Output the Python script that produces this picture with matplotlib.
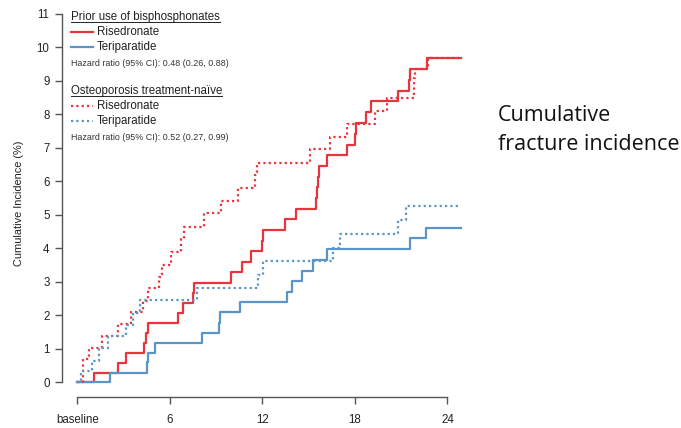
"""Cumulative fracture incidence: risedronate vs teriparatide, by prior treatment."""

import matplotlib
matplotlib.use("Agg")
import matplotlib.pyplot as plt
from matplotlib.lines import Line2D

# Kaplan-Meier style step data (months, cumulative incidence %)
rise_prior_t = [0, 1.06, 2.66, 3.14, 4.34, 4.48, 4.6, 6.55, 6.83, 7.5, 7.56, 9.96,
                10.69, 11.26, 11.95, 12.05, 13.46, 14.17, 15.5, 15.55, 15.6, 15.65,
                16.16, 17.5, 18.0, 18.05, 18.7, 19.03, 20.76, 21.5, 21.6, 22.7, 24.9]
rise_prior_y = [0, 0.28, 0.57, 0.87, 1.17, 1.47, 1.77, 2.07, 2.37, 2.67, 2.97, 3.28,
                3.6, 3.92, 4.23, 4.55, 4.87, 5.18, 5.5, 5.82, 6.14, 6.46,
                6.78, 7.09, 7.41, 7.73, 8.06, 8.39, 8.7, 9.02, 9.34, 9.67, 9.67]

teri_prior_t = [0, 2.12, 4.5, 4.56, 5.04, 8.06, 9.2, 9.25, 10.54, 13.6, 13.93, 14.6,
                15.3, 16.2, 21.56, 22.58, 24.9]
teri_prior_y = [0, 0.29, 0.6, 0.88, 1.16, 1.48, 1.78, 2.09, 2.4, 2.7, 3.02, 3.33,
                3.65, 3.97, 4.3, 4.62, 4.62]

rise_naive_t = [0, 0.39, 0.78, 1.58, 2.66, 3.48, 4.28, 4.6, 5.31, 5.5, 6.05, 6.7, 6.9,
                8.21, 9.31, 10.4, 11.55, 11.62, 15.08, 16.4, 17.46, 19.3, 20.05, 21.8,
                21.85, 21.9, 22.75, 24.9]
rise_naive_y = [0, 0.7, 1.03, 1.38, 1.73, 2.09, 2.44, 2.8, 3.15, 3.5, 3.88, 4.27, 4.65,
                5.04, 5.41, 5.8, 6.18, 6.56, 6.96, 7.33, 7.72, 8.1, 8.48, 8.78,
                9.08, 9.34, 9.67, 9.67]

teri_naive_t = [0, 0.24, 0.93, 1.4, 2.0, 3.16, 3.63, 4.06, 7.74, 11.73, 12.05, 16.55,
                17.0, 20.8, 21.3, 24.9]
teri_naive_y = [0, 0.33, 0.64, 1.03, 1.38, 1.72, 2.06, 2.45, 2.82, 3.2, 3.62, 4.0,
                4.43, 4.85, 5.27, 5.27]

x_ticks = [0, 6, 12, 18, 24]
x_labels = ["baseline", "6", "12", "18", "24"]
y_ticks = list(range(0, 12))

RED = "#e8343d"
BLUE = "#5b95c8"
AXIS = "#555555"
DOTS = (0, (1, 1.4))

W, H = 681, 428
fig = plt.figure(figsize=(W / 100, H / 100), dpi=100)
plt.rcParams["font.family"] = ["Liberation Sans", "DejaVu Sans"]

# axes placed so that the detached R-style spines land where they do in the original
ax = fig.add_axes([62 / W, 31 / H, (466 - 62) / W, (417.5 - 31) / H])
ax.set_xlim(-0.99, 25.2)
ax.set_ylim(-0.44, 11.1)

ax.step(rise_prior_t, rise_prior_y, where="post", color=RED, lw=1.6)
ax.step(teri_prior_t, teri_prior_y, where="post", color=BLUE, lw=1.6)
ax.step(rise_naive_t, rise_naive_y, where="post", color=RED, lw=1.6, linestyle=DOTS)
ax.step(teri_naive_t, teri_naive_y, where="post", color=BLUE, lw=1.6, linestyle=DOTS)

for side in ["top", "right"]:
    ax.spines[side].set_visible(False)
ax.spines["left"].set_bounds(0, 11)
ax.spines["bottom"].set_bounds(0, 24)
for side in ["left", "bottom"]:
    ax.spines[side].set_color(AXIS)
    ax.spines[side].set_linewidth(1.0)

ax.set_xticks(x_ticks)
ax.set_xticklabels(x_labels)
ax.set_yticks(y_ticks)
ax.tick_params(axis="both", colors=AXIS, length=5, width=1.0, labelsize=8.3,
               labelcolor="#222222")
ax.tick_params(axis="x", pad=7)
ax.tick_params(axis="y", pad=4)
ax.set_ylabel("Cumulative Incidence (%)", fontsize=7.9, color="#222222", labelpad=9)


# legend drawn by hand, in pixel coordinates from the top-left
def fx(px):
    return px / W


def fy(py):
    return 1 - py / H


headers = []
blocks = [
    (17, "Prior use of bisphosphonates", "-", "Hazard ratio (95% CI): 0.48 (0.26, 0.88)"),
    (91, "Osteoporosis treatment-na\u00efve", DOTS, "Hazard ratio (95% CI): 0.52 (0.27, 0.99)"),
]
for top, title, style, hr in blocks:
    t = fig.text(fx(71), fy(top), title, fontsize=8.3, color="#222222", va="center")
    headers.append(t)
    for i, (name, col) in enumerate([("Risedronate", RED), ("Teriparatide", BLUE)]):
        yy = fy(top + 15 + 15 * i)
        fig.add_artist(Line2D([fx(71), fx(93)], [yy, yy], color=col, lw=1.6,
                              linestyle=style))
        fig.text(fx(96.5), yy, name, fontsize=8.3, color="#222222", va="center")
    fig.text(fx(71), fy(top + 46), hr, fontsize=6.4, color="#333333", va="center")

# underline the two headers
fig.canvas.draw()
renderer = fig.canvas.get_renderer()
for t in headers:
    bb = t.get_window_extent(renderer).transformed(fig.transFigure.inverted())
    fig.add_artist(Line2D([bb.x0, bb.x1], [bb.y0 + 0.002, bb.y0 + 0.002],
                          color="#222222", lw=0.7))

fig.text(fx(498), fy(130), "Cumulative\nfracture incidence", fontsize=15.5,
         family=["Open Sans", "DejaVu Sans"], color="#111111", va="center",
         linespacing=1.45)

fig.savefig("out.png", dpi=100)
